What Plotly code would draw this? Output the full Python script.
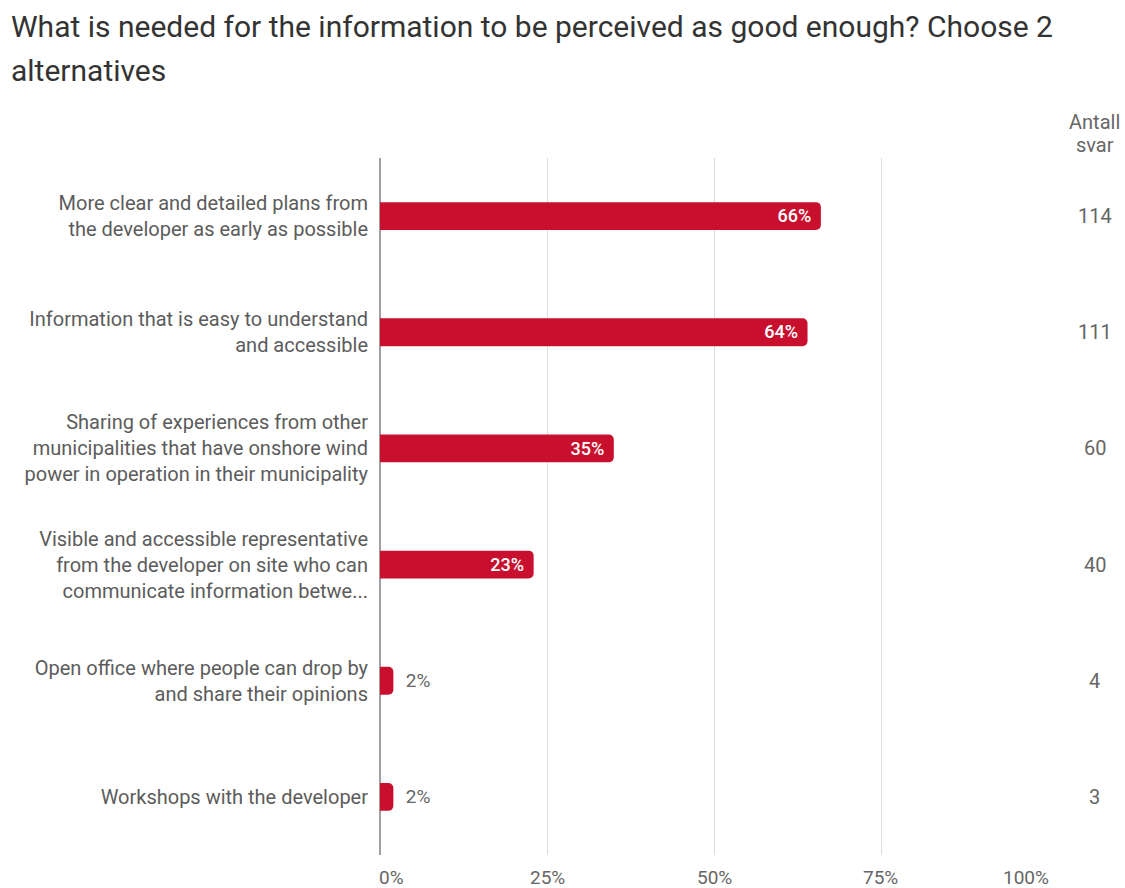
import plotly.graph_objects as go

# Survey answers (share of respondents, %) and number of answers
categories = [
    "More clear and detailed plans from<br>the developer as early as possible",
    "Information that is easy to understand<br>and accessible",
    "Sharing of experiences from other<br>municipalities that have onshore wind<br>power in operation in their municipality",
    "Visible and accessible representative<br>from the developer on site who can<br>communicate information betwe...",
    "Open office where people can drop by<br>and share their opinions",
    "Workshops with the developer",
]
percent = [66, 64, 35, 23, 2, 2]
answers = [114, 111, 60, 40, 4, 3]
tick_values = [0, 25, 50, 75, 100]
tick_labels = ["0%", "25%", "50%", "75%", "100%"]

title_line1 = "What is needed for the information to be perceived as good enough? Choose 2"
title_line2 = "alternatives"
count_header = ["Antall", "svar"]

W, H = 1125, 888
M_L, M_R, M_T, M_B = 379, 76, 158, 33
PLOT_W = W - M_L - M_R
PLOT_H = H - M_T - M_B
X_MIN, X_MAX = -0.15, 100.15

BAR = "#C8102E"
FONT = "Roboto"
TEXT_GREY = "#5c5c5c"
NBSP = "\u00a0"


def x_to_paper(v):
    return (v - X_MIN) / (X_MAX - X_MIN)


def y_px_to_paper(px):
    return 1 + (M_T - px) / PLOT_H


positions = ["inside" if p >= 10 else "outside" for p in percent]
labels = [f"{p}%{NBSP}" if pos == "inside" else f"{NBSP}{NBSP}{p}%"
          for p, pos in zip(percent, positions)]

fig = go.Figure(
    go.Bar(
        x=percent,
        y=categories,
        orientation="h",
        marker=dict(color=BAR, line=dict(width=0)),
        width=0.24,
        text=labels,
        textposition=positions,
        insidetextanchor="end",
        insidetextfont=dict(family=FONT, size=19, color="white", weight=500),
        outsidetextfont=dict(family=FONT, size=19, color="#666666"),
        cliponaxis=False,
        hoverinfo="skip",
    )
)

annotations = []
# axis tick labels: first left-aligned, last right-aligned
for v, t in zip(tick_values, tick_labels):
    anchor = "left" if v == tick_values[0] else ("right" if v == tick_values[-1] else "center")
    shift = -3 if anchor == "left" else (3 if anchor == "right" else 0)
    annotations.append(dict(
        x=x_to_paper(v), y=0, xref="paper", yref="paper", text=t, showarrow=False,
        xanchor=anchor, yanchor="middle", yshift=-22, xshift=shift,
        font=dict(family=FONT, size=19, color="#666666"),
    ))

# answer counts column to the right of the plot
COUNT_X = x_to_paper(107)
for line, yc in zip(count_header, [122, 145]):
    annotations.append(dict(
        x=COUNT_X, y=y_px_to_paper(yc), xref="paper", yref="paper", text=line,
        showarrow=False, xanchor="center", yanchor="middle",
        font=dict(family=FONT, size=20, color="#666666"),
    ))
for i, n in enumerate(answers):
    annotations.append(dict(
        x=COUNT_X, y=i, xref="paper", yref="y", text=str(n), showarrow=False,
        xanchor="center", yanchor="middle",
        font=dict(family=FONT, size=20, color="#666666"),
    ))

# two-line title with generous line spacing
for line, yc in [(title_line1, 27), (title_line2, 70)]:
    annotations.append(dict(
        x=-(M_L - 9) / PLOT_W, y=y_px_to_paper(yc),
        xref="paper", yref="paper", text=line, showarrow=False,
        xanchor="left", yanchor="middle",
        font=dict(family=FONT, size=30, color="#333333"),
    ))

fig.update_layout(
    width=W, height=H,
    margin=dict(l=M_L, r=M_R, t=M_T, b=M_B, autoexpand=False),
    paper_bgcolor="white", plot_bgcolor="white",
    barcornerradius=5,
    showlegend=False,
    annotations=annotations,
    xaxis=dict(
        range=[X_MIN, X_MAX], tickvals=tick_values, showticklabels=False,
        showgrid=True, gridcolor="#dddddd", gridwidth=1,
        zeroline=True, zerolinecolor="#a0a0a0", zerolinewidth=2,
        showline=False, fixedrange=True,
    ),
    yaxis=dict(
        autorange=False, range=[5.5, -0.5], showgrid=False, zeroline=False,
        showline=False, ticks="", ticklabelstandoff=10,
        tickfont=dict(family=FONT, size=20, color=TEXT_GREY),
        fixedrange=True,
    ),
)

fig.write_html("out.html")
